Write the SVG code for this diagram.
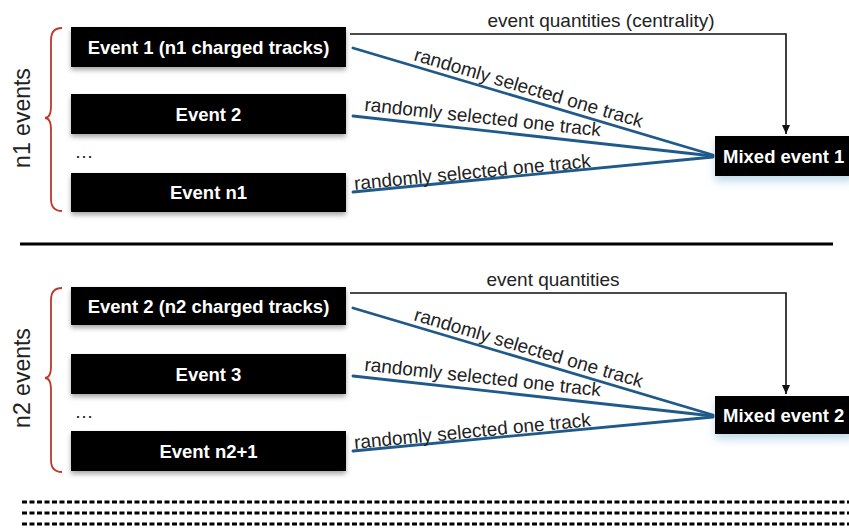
<svg xmlns="http://www.w3.org/2000/svg" width="849" height="528" viewBox="0 0 849 528">
<style>
.box{fill:#000;filter:url(#sh)}
.bt{fill:#fff;font-family:"Liberation Sans",Arial,sans-serif;font-weight:bold;font-size:18.5px;text-anchor:middle}
.mt{fill:#fff;font-family:"Liberation Sans",Arial,sans-serif;font-weight:bold;font-size:18.5px}
.lbl{fill:#222;font-family:"Liberation Sans",Arial,sans-serif;font-size:19px;text-anchor:middle}
.side{fill:#222;font-family:"Liberation Sans",Arial,sans-serif;font-size:23px;text-anchor:middle}
.blue{stroke:#1f5a8a;stroke-width:2.8;fill:none;stroke-linecap:round}
.arr{stroke:#111;stroke-width:1.6;fill:none}
.brace{stroke:#c0392b;stroke-width:1.8;fill:none}
.dash{stroke:#000;stroke-width:3;stroke-dasharray:5 2.5}
</style>
<defs>
<filter id="sh" x="-10%" y="-30%" width="120%" height="170%">
<feDropShadow dx="0" dy="3" stdDeviation="2.5" flood-color="#000" flood-opacity="0.35"/>
</filter>
<filter id="bsh" x="-20%" y="-30%" width="140%" height="190%">
<feDropShadow dx="0" dy="5" stdDeviation="4" flood-color="#7fb3d5" flood-opacity="0.5"/>
</filter>
<marker id="ah" markerWidth="10" markerHeight="10" refX="9" refY="5" orient="auto" markerUnits="userSpaceOnUse">
<path d="M0,1 L9,5 L0,9 Z" fill="#111"/>
</marker>
</defs>
<rect width="849" height="528" fill="#fff"/>

<g id="top-group">
<g id="brace1"><path class="brace" d="M62,28 Q51,28 51,40 L51,106 Q51,118 45,118 Q51,118 51,130 L51,199 Q51,211 62,211"/></g>
<g id="label-n1"><text class="side" transform="translate(30,118) rotate(-90)">n1 events</text></g>
<g id="event1"><rect class="box" x="71" y="27" width="275" height="40"/><text class="bt" x="208.5" y="53.5">Event 1 (n1 charged tracks)</text></g>
<g id="event2"><rect class="box" x="71" y="94" width="275" height="40"/><text class="bt" x="208.5" y="120.5">Event 2</text></g>
<g id="dots1"><text class="lbl" x="84" y="158">…</text></g>
<g id="eventn1"><rect class="box" x="71" y="173" width="275" height="39"/><text class="bt" x="208.5" y="199">Event n1</text></g>
<g id="mixed1"><rect x="715" y="136" width="140" height="40" fill="#000" filter="url(#bsh)"/><text class="mt" x="723" y="162.5">Mixed event 1</text></g>
</g>

<g id="separator"><line x1="20" y1="244" x2="833" y2="244" stroke="#000" stroke-width="3"/></g>

<g id="bottom-group">
<g id="brace2"><path class="brace" d="M62,288 Q51,288 51,300 L51,366 Q51,378 45,378 Q51,378 51,390 L51,460 Q51,472 62,472"/></g>
<g id="label-n2"><text class="side" transform="translate(30,378) rotate(-90)">n2 events</text></g>
<g id="event2b"><rect class="box" x="71" y="287" width="275" height="38"/><text class="bt" x="208.5" y="312.5">Event 2 (n2 charged tracks)</text></g>
<g id="event3"><rect class="box" x="71" y="354" width="275" height="40"/><text class="bt" x="208.5" y="380.5">Event 3</text></g>
<g id="dots2"><text class="lbl" x="84" y="418">…</text></g>
<g id="eventn2"><rect class="box" x="71" y="431" width="275" height="40"/><text class="bt" x="208.5" y="457.5">Event n2+1</text></g>
<g id="mixed2"><rect x="715" y="396" width="140" height="38" fill="#000" filter="url(#bsh)"/><text class="mt" x="723" y="421.5">Mixed event 2</text></g>
</g>

<g id="connectors">
<path class="arr" d="M350,34 H786 V134" marker-end="url(#ah)"/>
<text class="lbl" x="601" y="27">event quantities (centrality)</text>
<line class="blue" x1="353" y1="48" x2="713" y2="155"/>
<line class="blue" x1="353" y1="116" x2="713" y2="156"/>
<line class="blue" x1="353" y1="192" x2="713" y2="157"/>
<text class="lbl" transform="translate(527,94) rotate(16.5)">randomly selected one track</text>
<text class="lbl" transform="translate(482,123.5) rotate(6.2)">randomly selected one track</text>
<text class="lbl" transform="translate(473,178.5) rotate(-5.5)">randomly selected one track</text>

<path class="arr" d="M350,293 H786 V394" marker-end="url(#ah)"/>
<text class="lbl" x="553" y="286">event quantities</text>
<line class="blue" x1="353" y1="308" x2="713" y2="415"/>
<line class="blue" x1="353" y1="376" x2="713" y2="416"/>
<line class="blue" x1="353" y1="451" x2="713" y2="417"/>
<text class="lbl" transform="translate(527,354) rotate(16.5)">randomly selected one track</text>
<text class="lbl" transform="translate(482,383.5) rotate(6.2)">randomly selected one track</text>
<text class="lbl" transform="translate(473,437.5) rotate(-5.5)">randomly selected one track</text>
</g>

<g id="dashes">
<line class="dash" x1="22" y1="502" x2="849" y2="502"/>
<line class="dash" x1="22" y1="513" x2="849" y2="513"/>
<line class="dash" x1="22" y1="524" x2="849" y2="524"/>
</g>
</svg>
